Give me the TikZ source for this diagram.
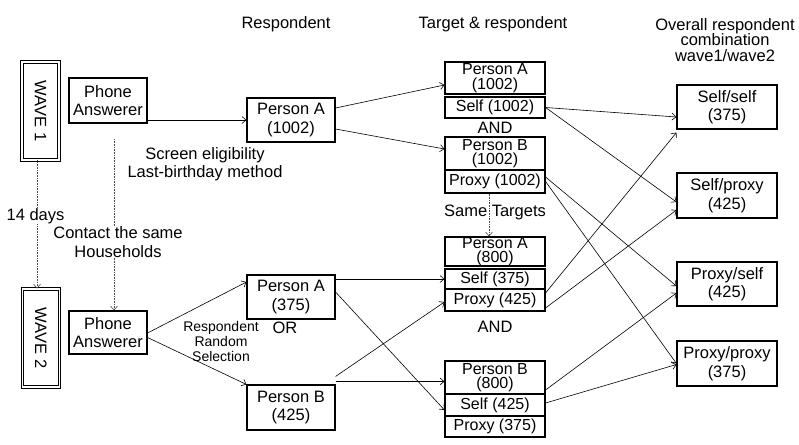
\documentclass[tikz,border=0pt]{standalone}
\usepackage{fontspec}
\setmainfont{Liberation Sans}
\usepackage{tikz}
\usetikzlibrary{arrows.meta, positioning, calc}

\begin{document}
\begin{tikzpicture}[x=1pt, y=-1pt,
    every node/.style={font=\fontsize{16.5}{18.5}\selectfont, inner sep=1pt, align=center},
    >={Straight Barb[length=4pt,width=7pt]},
    wavebox/.style={draw, double, double distance=1.5pt, line width=0.9pt, minimum width=37pt, minimum height=98pt},
    resp/.style={draw, line width=1.1pt, minimum width=88pt, minimum height=44pt},
    phone/.style={resp, minimum width=78pt},
    comb/.style={resp, minimum width=100pt},
    tgt/.style={draw, line width=1.1pt, minimum width=100pt, inner sep=0pt, font=\fontsize{16}{14.5}\selectfont},
    link/.style={->, line width=0.6pt},
    dots/.style={densely dotted, line width=0.6pt, black!70}]
      \useasboundingbox (0,0) rectangle (799,444);

      % headers
      \node (h1) at (286,24) {Respondent};
      \node (h2) at (493,24) {Target \& respondent};
      \node[font=\fontsize{16.5}{15.5}\selectfont] (h3) at (725,40) {Overall respondent\\combination\\wave1/wave2};

      % waves and phone answerers
      \node[wavebox] (wave1) at (40.5,111) {\rotatebox{-90}{WAVE 1}};
      \node[wavebox] (wave2) at (41,338) {\rotatebox{-90}{WAVE 2}};
      \node[phone, minimum height=45pt] (pa1) at (108,100.5) {Phone\\Answerer};
      \node[phone, minimum height=43pt] (pa2) at (108,332.5) {Phone\\Answerer};

      % respondents
      \node[resp] (r1a) at (291,120) {Person A\\(1002)};
      \node[resp] (r2a) at (291,297) {Person A\\(375)};
      \node[resp, minimum height=45pt] (r2b) at (291,407.5) {Person B\\(425)};

      % targets, wave 1
      \node[tgt, minimum height=32pt] (t1a) at (495,78) {Person A\\(1002)};
      \node[tgt, minimum height=21pt] (t1s) at (495,107.5) {Self (1002)};
      \node[tgt, minimum height=33pt] (t1b) at (495,153.5) {Person B\\(1002)};
      \node[tgt, minimum height=23pt] (t1p) at (495,181.5) {Proxy (1002)};

      % targets, wave 2
      \node[tgt, minimum height=29pt] (t2a) at (495,251.5) {Person A\\(800)};
      \node[tgt, minimum height=20pt] (t2s) at (495,279) {Self (375)};
      \node[tgt, minimum height=22pt] (t2p) at (495,300) {Proxy (425)};
      \node[tgt, minimum height=33pt] (t3a) at (495,377.5) {Person B\\(800)};
      \node[tgt, minimum height=22pt] (t3s) at (495,405) {Self (425)};
      \node[tgt, minimum height=21pt] (t3p) at (495,426.5) {Proxy (375)};

      % combinations
      \node[comb] (o1) at (727,107) {Self/self\\(375)};
      \node[comb, minimum height=45pt] (o2) at (727,195.5) {Self/proxy\\(425)};
      \node[comb] (o3) at (727,284) {Proxy/self\\(425)};
      \node[comb, minimum height=45pt] (o4) at (727,363.5) {Proxy/proxy\\(375)};

      % labels
      \node (and1) at (495,128) {AND};
      \node (and2) at (495,327) {AND};
      \node (or) at (285,328) {OR};
      \node (screen) at (205,164) {Screen eligibility\\Last-birthday method};
      \node[font=\fontsize{14}{15}\selectfont] (rrs) at (221,341) {Respondent\\Random\\Selection};

      % dotted links
      \draw[dots, ->] ([xshift=-3.5pt]wave1.south) -- ([xshift=-3.5pt]wave1.south |- wave2.north);
      \node[fill=white, inner sep=0pt] (days) at (35.5,216) {14 days};

      \coordinate (c1) at (114,139);
      \node[fill=white, inner sep=0pt] (contact) at (118,242) {Contact the same\\Households};
      \draw[dots] (c1) -- (c1 |- contact.north);
      \draw[dots, ->] (c1 |- contact.south) -- (c1 |- pa2.north);

      \draw[dots, ->] ([xshift=-6pt]t1p.south) -- ([xshift=-6pt]t2a.north);
      \node (same) at (495,212) {Same Targets};

      % wave 1 links
      \draw[link] (r1a.west -| pa1.east) -- (r1a.west);
      \draw[link] ([yshift=12pt]r1a.east) -- ([yshift=-7pt]t1a.west);
      \draw[link] ([yshift=-9pt]r1a.east) -- ([yshift=4.5pt]t1b.west);

      % wave 2 links
      \draw[link] ([yshift=-0.5pt]pa2.east) -- ([yshift=15pt]r2a.west);
      \draw[link] ([yshift=-5pt]pa2.east) -- (r2b.north west);
      \draw[link] (t2s.west -| r2a.east) -- (t2s.west);
      \draw[link] ([yshift=5pt]r2a.east) -- ([yshift=-5pt]t3s.west);
      \draw[link] ([yshift=8pt]r2b.north east) -- ([yshift=-2pt]t2p.west);
      \draw[link] ([yshift=3pt]r2b.north east) -- ([yshift=3pt]r2b.north east -| t3a.west);

      % to combinations
      \draw[link] (t1s.east) -- ([yshift=-10pt]o1.west);
      \draw[link] (t1s.east) -- ([yshift=-6.5pt]o2.west);
      \draw[link] ([yshift=4.5pt]t1p.east) -- ([yshift=-2pt]o3.west);
      \draw[link] (t1p.east) -- (o4.west);
      \draw[link] ([yshift=7pt]t2p.east) -- ([yshift=-3pt]o1.south west);
      \draw[link] ([yshift=-8pt]t2p.east) -- ([yshift=-14.5pt]o2.west);
      \draw[link] ([yshift=-12.5pt]t3a.east) -- ([yshift=-9pt]o3.west);
      \draw[link] ([yshift=2pt]t3s.east) -- ([yshift=-1pt]o4.west);

    \end{tikzpicture}
\end{document}
